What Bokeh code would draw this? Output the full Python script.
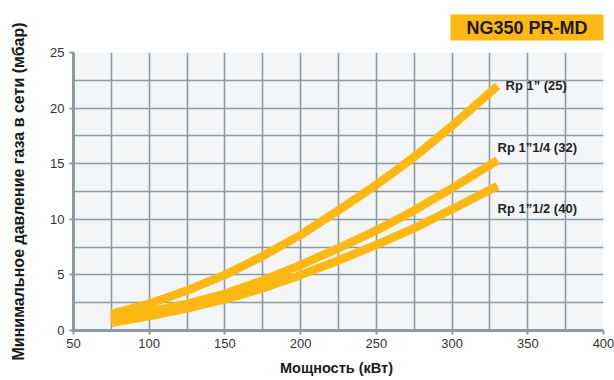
from bokeh.plotting import figure
from bokeh.models import Range1d, Title, FixedTicker, ColumnDataSource
from bokeh.core.properties import value
from bokeh.embed import file_html
from bokeh.resources import INLINE

power_kw = [75, 100, 125, 150, 175, 200, 225, 250, 275, 300, 330]
rp1_25 = [1.5, 2.4, 3.6, 5.0, 6.7, 8.6, 10.8, 13.1, 15.6, 18.4, 22.0]
rp114_32 = [1.0, 1.7, 2.4, 3.3, 4.5, 5.9, 7.4, 9.0, 10.8, 12.8, 15.3]
rp112_40 = [0.7, 1.3, 2.0, 2.8, 3.8, 5.0, 6.3, 7.7, 9.2, 10.9, 13.0]
series_names = ["Rp 1\u201d (25)", "Rp 1\u201d1/4 (32)", "Rp 1\u201d1/2 (40)"]
x_ticks = [50, 100, 150, 200, 250, 300, 350, 400]
y_ticks = [0, 5, 10, 15, 20, 25]
title_text = "NG350 PR-MD"

FONT = "Liberation Sans"
GRID = "#8d9aa2"
YELLOW = "#fdb813"

p = figure(width=614, height=380, output_backend="svg", toolbar_location=None,
           x_range=Range1d(50, 400), y_range=Range1d(0, 25),
           min_border_left=73, min_border_right=11, min_border_top=52, min_border_bottom=50)
p.outline_line_color = None
p.background_fill_color = "#f3f5f7"
p.border_fill_color = "white"

p.title = Title(text=title_text, align="right", text_font=FONT, text_font_size="18px",
                text_font_style="bold", text_color="#1a1a1a",
                background_fill_color=YELLOW,
                padding=dict(left=16, right=16, top=3, bottom=3),
                standoff=24, offset=0)

p.xaxis.ticker = FixedTicker(ticks=x_ticks, minor_ticks=[75, 125, 175, 225, 275, 325, 375])
p.yaxis.ticker = FixedTicker(ticks=y_ticks, minor_ticks=[2.5, 7.5, 12.5, 17.5, 22.5])
for ax in (p.xaxis, p.yaxis):
    ax.axis_line_color = GRID
    ax.axis_line_width = 3
    ax.major_tick_line_color = GRID
    ax.major_tick_line_width = 2
    ax.major_tick_in = 0
    ax.major_tick_out = 4
    ax.minor_tick_line_color = None
    ax.major_label_text_font = FONT
    ax.major_label_text_font_size = "13px"
    ax.major_label_text_color = "#333333"
    ax.axis_label_text_font = FONT
    ax.axis_label_text_font_style = "bold"
    ax.axis_label_text_color = "#1a1a1a"
p.xaxis.axis_label = "Мощность  (кВт)"
p.yaxis.axis_label = "Минимальное давление газа в сети (мбар)"
p.xaxis.axis_label_text_font_size = "14.5px"
p.yaxis.axis_label_text_font_size = "16px"
p.xaxis.axis_label_standoff = 9
p.yaxis.axis_label_standoff = 20
p.xaxis.major_label_standoff = 4
p.yaxis.major_label_standoff = 5

for g in (p.xgrid, p.ygrid):
    g.grid_line_color = GRID
    g.grid_line_width = 1.6
    g.minor_grid_line_color = GRID
    g.minor_grid_line_width = 1.6

for ys in (rp1_25, rp114_32, rp112_40):
    p.line(power_kw, ys, line_color=YELLOW, line_width=8.5, line_cap="butt", line_join="round")

ends_x = [power_kw[-1]] * 3
ends_y = [rp1_25[-1], rp114_32[-1], rp112_40[-1]]
src = ColumnDataSource(dict(x=ends_x, y=ends_y, t=series_names,
                            xo=[8, 0, 0], yo=[0, -13, 23]))
p.text(x="x", y="y", text="t", x_offset="xo", y_offset="yo", source=src,
       text_font=value(FONT), text_font_size="13px", text_font_style="bold",
       text_color="#222222", text_baseline="middle", text_align="left")

open("out.html", "w").write(file_html(p, INLINE))
